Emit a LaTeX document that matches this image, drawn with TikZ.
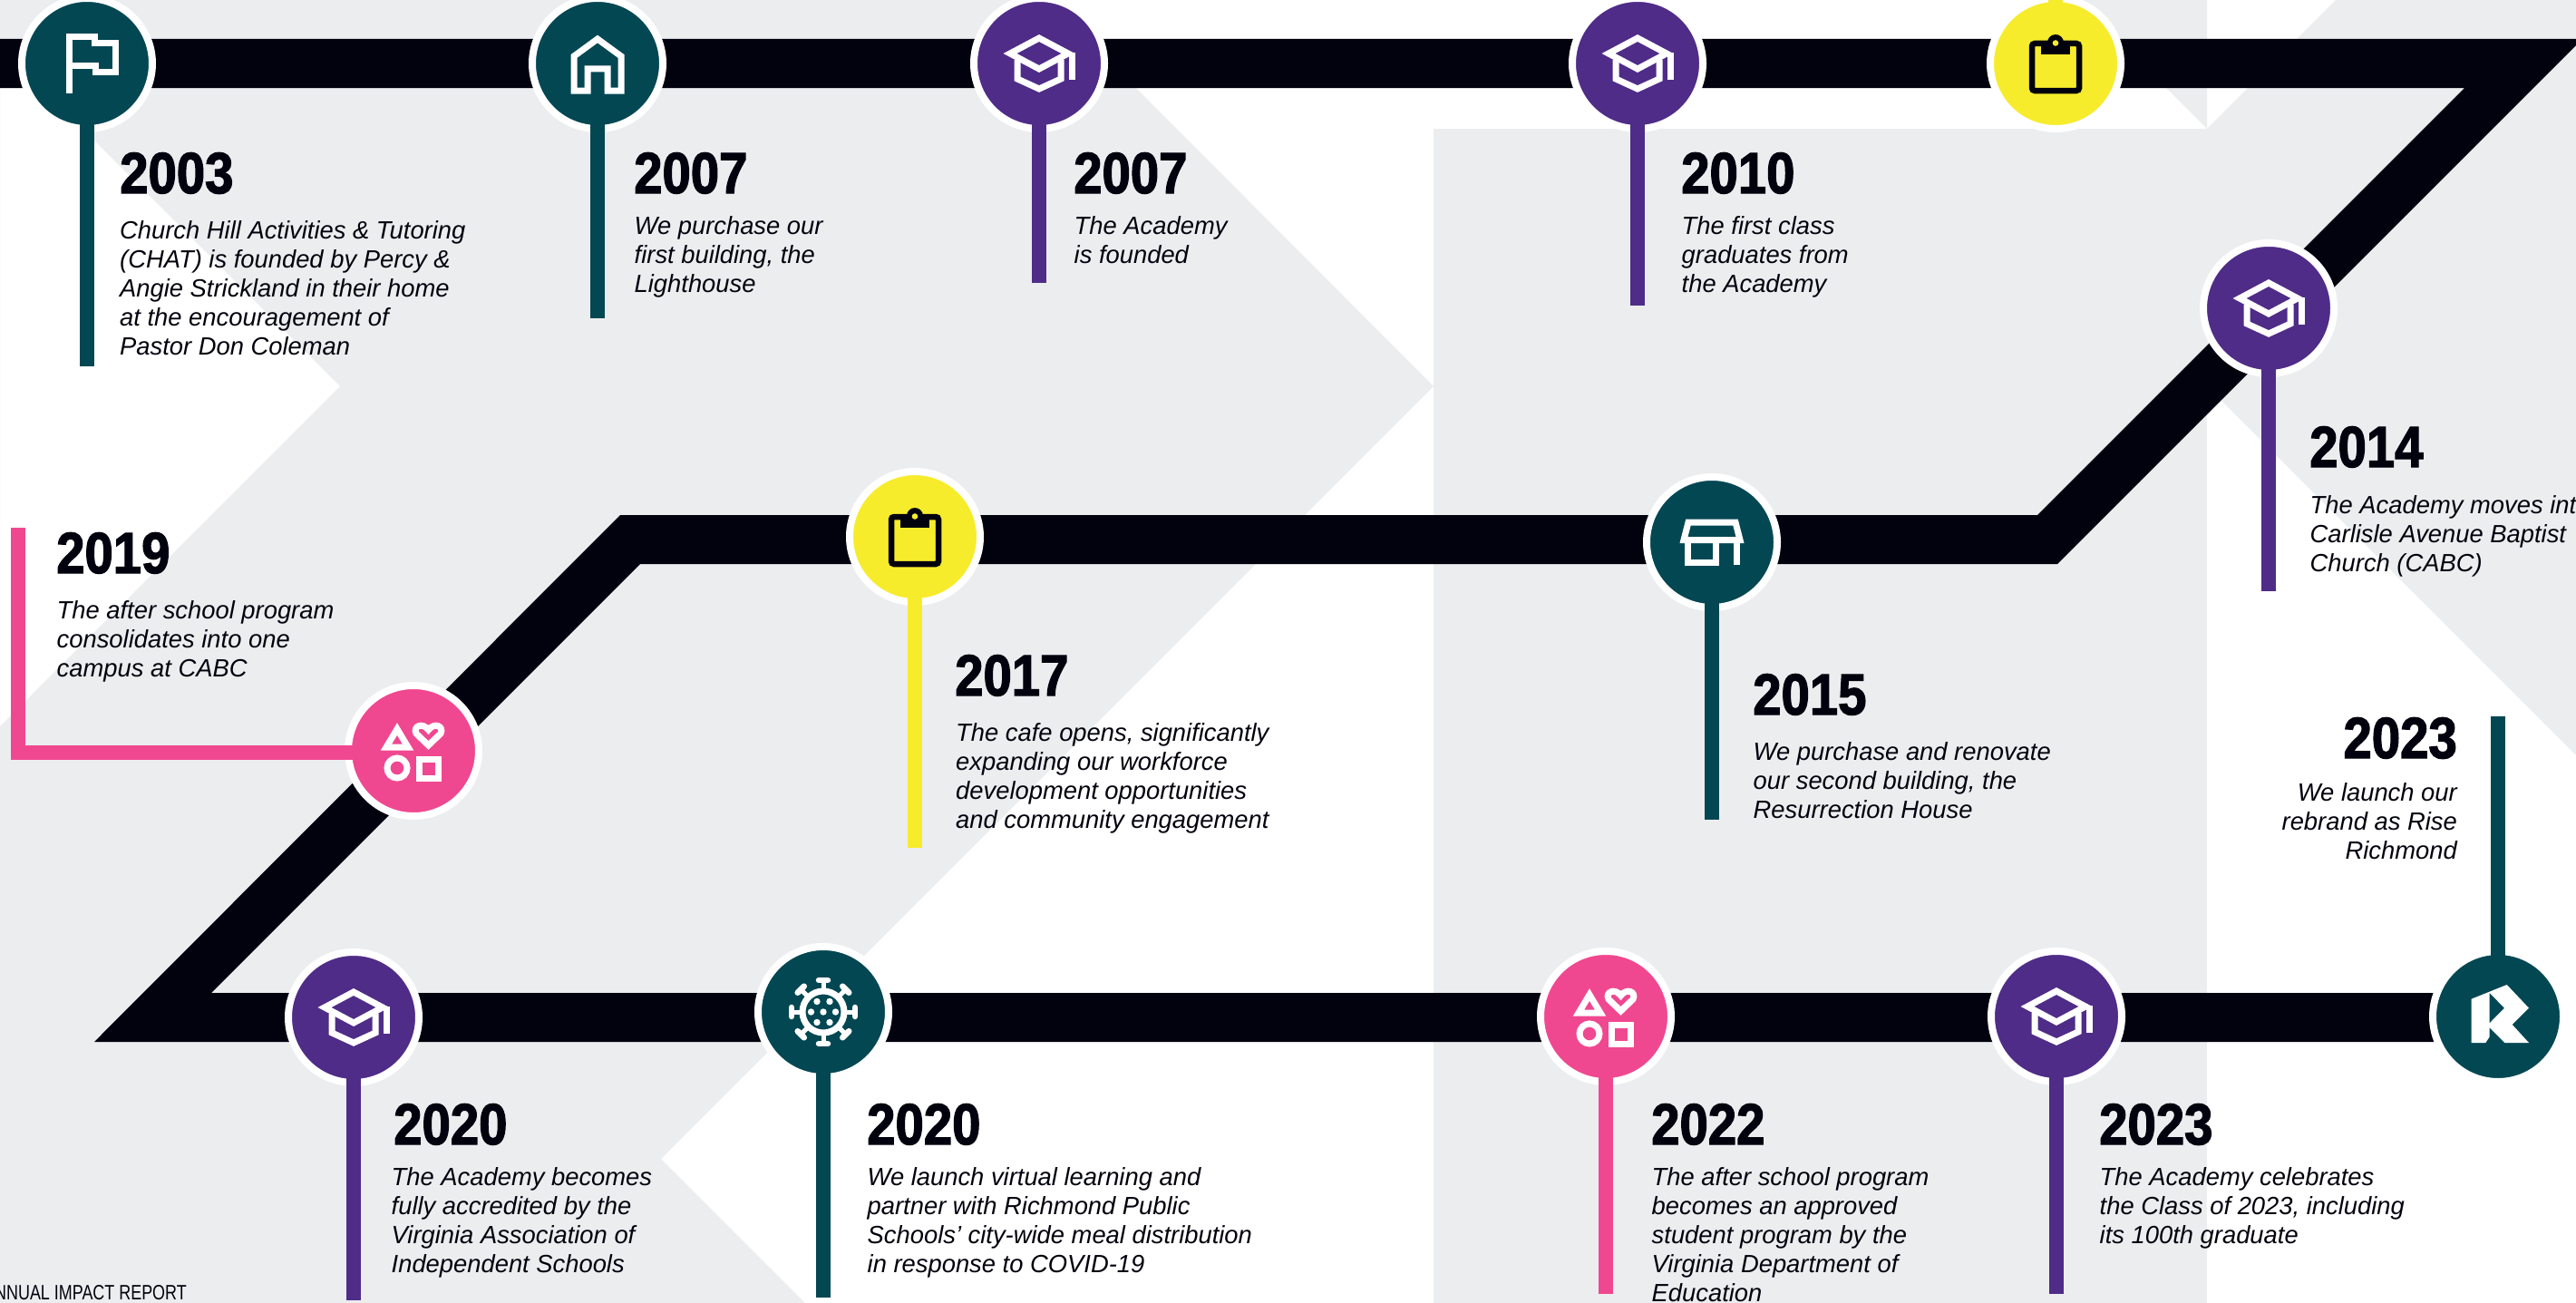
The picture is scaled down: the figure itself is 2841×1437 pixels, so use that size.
\documentclass[tikz,border=0pt]{standalone}
\usepackage{fontspec}
\setmainfont{Liberation Sans}
\newfontfamily\bodyfont[FakeStretch=0.995]{Liberation Sans Italic}
\newfontfamily\yearfont[FakeStretch=0.88,FakeBold=2]{Liberation Sans Bold}
\newfontfamily\notefont[FakeStretch=0.78]{Liberation Sans}
\definecolor{ink}{HTML}{02020E}
\definecolor{teal}{HTML}{034753}
\definecolor{violet}{HTML}{4F2C87}
\definecolor{rose}{HTML}{F04890}
\definecolor{sun}{HTML}{F7EC2C}
\definecolor{mist}{HTML}{ECEDEF}
\tikzset{
  x=1pt,y=-1pt,
  dot/.style={circle,inner sep=0pt,minimum size=144pt,draw=white,line width=8pt,fill=#1},
  stem/.style={line width=16pt,draw=#1,line cap=butt,miter limit=10},
  yeartext/.style={inner sep=0pt,anchor=base west,text=ink,font=\yearfont\fontsize{64}{64}\selectfont},
  yearright/.style={yeartext,anchor=base east},
  bodytext/.style={inner sep=0pt,anchor=north west,align=left,text=ink,font=\bodyfont\fontsize{27.5}{32}\selectfont},
  bodyright/.style={bodytext,anchor=north east,align=right},
  icon/.style={draw=white,line width=#1,miter limit=10,fill=none},
  icon/.default=7pt
}
\newcommand{\firstline}{\rule{0pt}{22pt}}
\newcommand{\capicon}[1]{%
  \begin{scope}[shift={(#1)}]
    \draw[icon] (0,-28) -- (-32,-11) -- (0,6) -- (32,-11) -- cycle;
    \draw[icon] (-24,-4) -- (-24,17) -- (0,28) -- (24,17) -- (24,-4);
    \draw[icon] (36,-12) -- (36,18);
  \end{scope}}
\newcommand{\clipicon}[2]{%
  \begin{scope}[shift={(#1)}]
    \draw[ink,line width=6.5pt,rounded corners=3pt] (-26,-22) rectangle (26,30);
    \fill[ink] (-16,-25) rectangle (16,-10);
    \fill[ink] (0,-23) circle[radius=9];
    \fill[#2] (0,-22.5) circle[radius=3.3];
  \end{scope}}
\newcommand{\shapesicon}[1]{%
  \begin{scope}[shift={(#1)}]
    \draw[icon] (-18,-24) -- (-30,-4) -- (-6,-4) -- cycle;
    \draw[icon] (16.5,-6) -- (3,-19) .. controls (-1,-27) and (10,-32) .. (16.5,-23) .. controls (23,-32) and (34,-27) .. (30,-19) -- cycle;
    \draw[icon] (-18,19) circle[radius=11];
    \draw[icon] (6,9) rectangle (27,30);
  \end{scope}}
\begin{document}
\begin{tikzpicture}
\useasboundingbox (0,0) rectangle (2841,1437);
\clip (0,0) rectangle (2841,1437);
% background
\fill[white] (0,0) rectangle (2841,1437);
\fill[mist,even odd rule] (0,0) -- (1156,0) -- (1581,426) -- (729,1278) -- (888,1437) -- (0,1437) -- cycle
  (-1,50) -- (375,426) -- (-1,802) -- cycle;
\fill[mist] (1581,142) rectangle (2434,1437);
\fill[mist] (2292,0) -- (2434,142) -- (2434,0) -- cycle;
\fill[mist] (2576,0) -- (2841,0) -- (2841,833) -- (2434,426) -- (2434,142) -- cycle;
% track
\fill[ink] (0,43) -- (2848,43) -- (2269,622) -- (706,622) -- (233,1095) -- (2700,1095) -- (2700,1149) -- (104,1149) -- (684,568) -- (2247,568) -- (2718,97) -- (0,97) -- cycle;
% markers
\node[dot=teal] (flag) at (96,70) {};
\node[dot=teal] (house) at (659,70) {};
\node[dot=violet] (acad) at (1146,70) {};
\node[dot=violet] (grad) at (1806,70) {};
\node[dot=sun] (clipa) at (2267,70) {};
\node[dot=violet] (carl) at (2502,340) {};
\node[dot=teal] (store) at (1888,598) {};
\node[dot=sun] (cafe) at (1009,592) {};
\node[dot=rose] (campus) at (456,828) {};
\node[dot=violet] (accr) at (390,1122) {};
\node[dot=teal] (virus) at (908,1116) {};
\node[dot=rose] (dept) at (1771,1121) {};
\node[dot=violet] (class) at (2268,1121) {};
\node[dot=teal] (logo) at (2755,1121) {};
% stem ends
\coordinate (eflag) at (96,404);
\coordinate (ehouse) at (659,351);
\coordinate (eacad) at (1146,312);
\coordinate (egrad) at (1806,337);
\coordinate (eclipa) at (2267,-10);
\coordinate (ecarl) at (2502,652);
\coordinate (estore) at (1888,904);
\coordinate (ecafe) at (1009,935);
\coordinate (bend) at (20,830);
\coordinate (ecampus) at (20,582);
\coordinate (eaccr) at (390,1434);
\coordinate (evirus) at (908,1431);
\coordinate (edept) at (1771,1427);
\coordinate (eclass) at (2268,1427);
\coordinate (elogo) at (2755,790);
\draw[stem=teal] (flag.center) -- (eflag);
\draw[stem=teal] (house.center) -- (ehouse);
\draw[stem=violet] (acad.center) -- (eacad);
\draw[stem=violet] (grad.center) -- (egrad);
\draw[stem=sun] (clipa.center) -- (eclipa);
\draw[stem=violet] (carl.center) -- (ecarl);
\draw[stem=teal] (store.center) -- (estore);
\draw[stem=sun] (cafe.center) -- (ecafe);
\draw[stem=rose] (ecampus) -- (bend) -- (bend -| campus.center);
\draw[stem=violet] (accr.center) -- (eaccr);
\draw[stem=teal] (virus.center) -- (evirus);
\draw[stem=rose] (dept.center) -- (edept);
\draw[stem=violet] (class.center) -- (eclass);
\draw[stem=teal] (logo.center) -- (elogo);
% icons
\begin{scope}[shift={(flag.center)}]
  \draw[icon] (-20,33) -- (-20,-29) -- (8,-29) -- (8,-22) -- (31,-22) -- (31,10) -- (9,10) -- (9,3) -- (-20,3);
\end{scope}
\begin{scope}[shift={(house.center)}]
  \draw[icon] (-26,30) -- (-26,-8) -- (0,-27) -- (26,-8) -- (26,30) -- (11,30) -- (11,6) -- (-11,6) -- (-11,30) -- cycle;
\end{scope}
\capicon{acad.center}
\capicon{grad.center}
\capicon{carl.center}
\capicon{accr.center}
\capicon{class.center}
\clipicon{clipa.center}{sun}
\clipicon{cafe.center}{sun}
\shapesicon{campus.center}
\shapesicon{dept.center}
\begin{scope}[shift={(store.center)}]
  \draw[icon] (-26,-22) -- (26,-22) -- (31,-2.5) -- (-31,-2.5) -- cycle;
  \draw[icon] (-27,-2) -- (-27,22) -- (4,22) -- (4,-2);
  \draw[icon] (27,-2) -- (27,25);
\end{scope}
\begin{scope}[shift={(virus.center)}]
  \draw[icon] (0,0) circle[radius=23];
  \foreach \a in {0,45,...,315}{
    \begin{scope}[rotate=\a]
      \draw[draw=white,line width=5pt] (23,0) -- (34,0);
      \draw[draw=white,line width=6.5pt,line cap=round] (35,-5) -- (35,5);
    \end{scope}}
  \foreach \p in {(0,0),(-13.5,0),(13.5,0),(-7,-11.5),(7,-11.5),(-7,11.5),(7,11.5)}
    \fill[white] \p circle[radius=3.7];
\end{scope}
\begin{scope}[shift={(logo.center)}]
  \fill[white,even odd rule] (-29.3,-19.3) -- (9.7,-35) -- (34,-9.3) -- (15.7,9) -- (34,29) -- (7.3,29) -- (-9.3,12.3) -- (-9.3,22.3) -- (-13.7,29) -- (-29.3,29) -- cycle
    (-9.3,-26) -- (7,-9.3) -- (-9.3,7.3) -- cycle;
\end{scope}
% texts
\node[yeartext] (y2003) at (132,213) {2003};
\node[bodytext] (t2003) at (132,241) {\firstline Church Hill Activities \& Tutoring\\(CHAT) is founded by Percy \&\\Angie Strickland in their home\\at the encouragement of\\Pastor Don Coleman};
\node[yeartext] (y2007a) at (699,213) {2007};
\node[bodytext] (t2007a) at (699.5,236) {\firstline We purchase our\\first building, the\\Lighthouse};
\node[yeartext] (y2007b) at (1184,213) {2007};
\node[bodytext] (t2007b) at (1184.5,236) {\firstline The Academy\\is founded};
\node[yeartext] (y2010) at (1854,213) {2010};
\node[bodytext] (t2010) at (1854.5,236) {\firstline The first class\\graduates from\\the Academy};
\node[yeartext] (y2014) at (2547,515) {2014};
\node[bodytext] (t2014) at (2547.5,544) {\firstline The Academy moves into\\Carlisle Avenue Baptist\\Church (CABC)};
\node[yeartext] (y2015) at (1933,788) {2015};
\node[bodytext] (t2015) at (1933.5,816) {\firstline We purchase and renovate\\our second building, the\\Resurrection House};
\node[yearright] (y2023b) at (2710,836) {2023};
\node[bodyright] (t2023b) at (2710,861) {\firstline We launch our\\rebrand as Rise\\Richmond};
\node[yeartext] (y2019) at (62,632) {2019};
\node[bodytext] (t2019) at (62.5,660) {\firstline The after school program\\consolidates into one\\campus at CABC};
\node[yeartext] (y2017) at (1053,767) {2017};
\node[bodytext] (t2017) at (1054,795) {\firstline The cafe opens, significantly\\expanding our workforce\\development opportunities\\and community engagement};
\node[yeartext] (y2020a) at (434,1262) {2020};
\node[bodytext] (t2020a) at (431.5,1285) {\firstline The Academy becomes\\fully accredited by the\\Virginia Association of\\Independent Schools};
\node[yeartext] (y2020b) at (956,1262) {2020};
\node[bodytext] (t2020b) at (956.5,1285) {\firstline We launch virtual learning and\\partner with Richmond Public\\Schools’ city-wide meal distribution\\in response to COVID-19};
\node[yeartext] (y2022) at (1821,1262) {2022};
\node[bodytext] (t2022) at (1821.5,1285) {\firstline The after school program\\becomes an approved\\student program by the\\Virginia Department of\\Education};
\node[yeartext] (y2023) at (2315,1262) {2023};
\node[bodytext] (t2023) at (2315.5,1285) {\firstline The Academy celebrates\\the Class of 2023, including\\its 100th graduate};
\node[inner sep=0pt,anchor=base east,text=ink,font=\notefont\fontsize{23}{23}\selectfont] (report) at (206,1433) {ANNUAL IMPACT REPORT};
\end{tikzpicture}
\end{document}
